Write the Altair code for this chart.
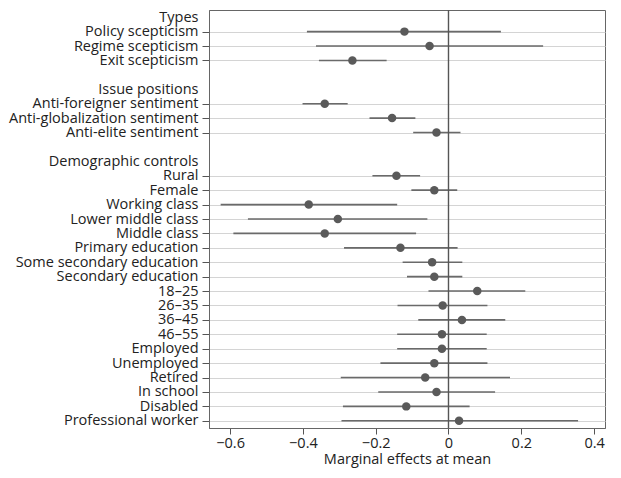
import altair as alt
import pandas as pd

order = ["Types", "Policy scepticism", "Regime scepticism", "Exit scepticism", " ",
         "Issue positions", "Anti-foreigner sentiment", "Anti-globalization sentiment", "Anti-elite sentiment", "  ",
         "Demographic controls", "Rural", "Female", "Working class", "Lower middle class", "Middle class",
         "Primary education", "Some secondary education", "Secondary education",
         "18\u201325", "26\u201335", "36\u201345", "46\u201355",
         "Employed", "Unemployed", "Retired", "In school", "Disabled", "Professional worker"]
headers = ["Types", " ", "Issue positions", "  ", "Demographic controls"]

labels = ["Policy scepticism", "Regime scepticism", "Exit scepticism",
          "Anti-foreigner sentiment", "Anti-globalization sentiment", "Anti-elite sentiment",
          "Rural", "Female", "Working class", "Lower middle class", "Middle class",
          "Primary education", "Some secondary education", "Secondary education",
          "18\u201325", "26\u201335", "36\u201345", "46\u201355",
          "Employed", "Unemployed", "Retired", "In school", "Disabled", "Professional worker"]
estimate = [-0.121, -0.052, -0.264,
            -0.340, -0.155, -0.033,
            -0.143, -0.039, -0.384, -0.304, -0.340,
            -0.132, -0.045, -0.039,
            0.079, -0.016, 0.037, -0.018,
            -0.018, -0.039, -0.064, -0.033, -0.116, 0.029]
lower = [-0.389, -0.364, -0.356,
         -0.401, -0.217, -0.097,
         -0.209, -0.102, -0.626, -0.551, -0.591,
         -0.287, -0.126, -0.114,
         -0.055, -0.140, -0.083, -0.141,
         -0.141, -0.187, -0.296, -0.193, -0.290, -0.294]
upper = [0.144, 0.260, -0.170,
         -0.277, -0.091, 0.033,
         -0.078, 0.024, -0.141, -0.058, -0.089,
         0.025, 0.038, 0.038,
         0.211, 0.107, 0.156, 0.105,
         0.105, 0.107, 0.169, 0.128, 0.058, 0.356]

df = pd.DataFrame({"label": labels, "est": estimate, "lo": lower, "hi": upper})

FONT = "Open Sans"
FS = 14.5
hdr_test = "indexof(" + str(headers).replace('"', "'") + ", datum.value) >= 0"

xscale = alt.Scale(domain=[-0.658, 0.43], nice=False, zero=False)
yscale = alt.Scale(domain=order, type="point", padding=0.5)

yaxis = alt.Axis(
    title=None, labelFont=FONT, labelFontSize=FS, labelColor="#222",
    tickSize=7, tickColor="#555", labelPadding=4, domainColor="#666",
    grid=True, gridColor="#d4d4d4", gridWidth=1.2,
    gridOpacity={"condition": {"test": hdr_test, "value": 0}, "value": 1},
    tickOpacity={"condition": {"test": hdr_test, "value": 0}, "value": 1},
    labelLimit=400,
)
xaxis = alt.Axis(
    title="Marginal effects at mean", titleFont=FONT, titleFontSize=FS, titleFontWeight="normal",
    titleColor="#222", labelFont=FONT, labelFontSize=FS, labelColor="#222",
    values=[-0.6, -0.4, -0.2, 0, 0.2, 0.4],
    labelExpr="datum.value == 0 ? '0' : format(datum.value, '.1f')",
    tickSize=6, tickColor="#555", domainColor="#666", grid=False, titlePadding=3,
)

base = alt.Chart(df)
bars = base.mark_rule(color="#6a6a6a", strokeWidth=1.6).encode(
    x=alt.X("lo:Q", scale=xscale, axis=xaxis),
    x2="hi:Q",
    y=alt.Y("label:N", scale=yscale, axis=yaxis, sort=order),
)
zero = alt.Chart(pd.DataFrame({"z": [0]})).mark_rule(color="#555", strokeWidth=1.4).encode(
    x=alt.X("z:Q", scale=xscale)
)
dots = base.mark_circle(size=72, color="#5a5a5a", opacity=1).encode(
    x=alt.X("est:Q", scale=xscale),
    y=alt.Y("label:N", scale=yscale, sort=order),
)

chart = alt.layer(bars, zero, dots).properties(
    width=396, height=418,
    autosize=alt.AutoSizeParams(type="none"),
    padding={"left": 201, "top": 2, "right": 8, "bottom": 42},
).configure_view(stroke="#666", strokeWidth=1)

chart.save("out.html", embed_options={"renderer": "svg", "actions": False})
